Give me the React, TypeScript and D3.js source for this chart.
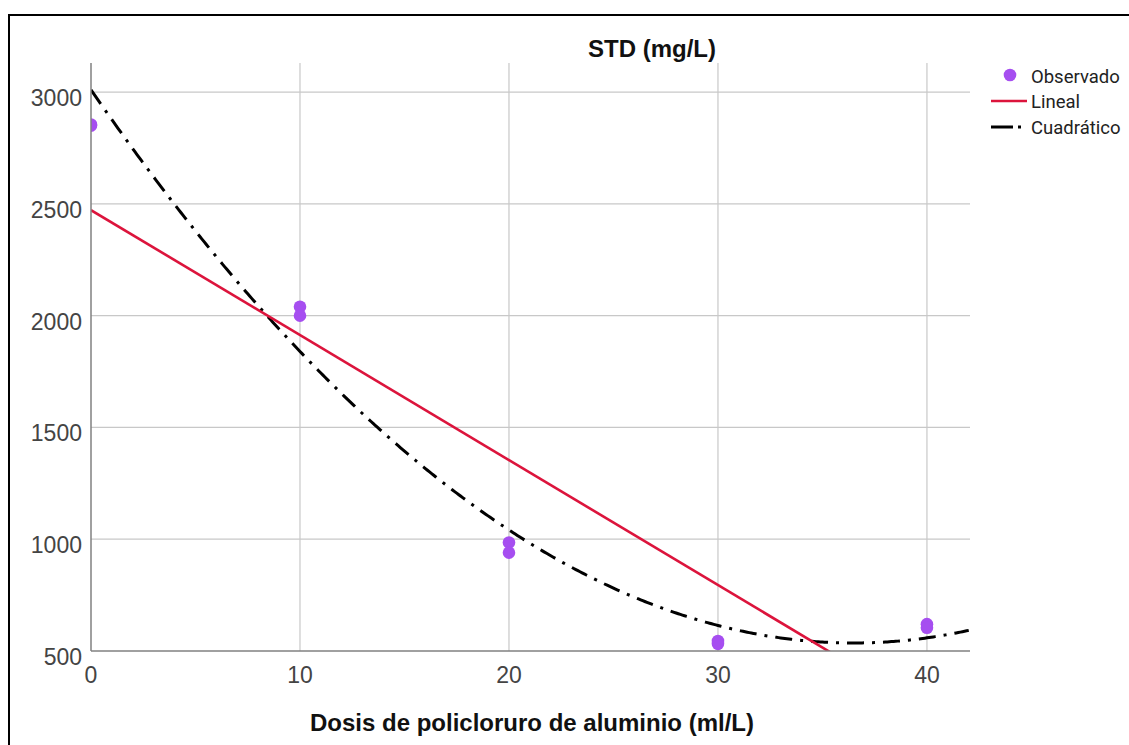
import React, { useEffect, useRef } from 'react';
import * as d3 from 'd3';

// observed points (dose ml/L, STD mg/L)
const doses = [0, 0, 10, 10, 20, 20, 30, 30, 40, 40];
const stdValues = [2855, 2850, 2040, 2000, 985, 940, 545, 532, 620, 604];

// fitted models, coefficients
const linearCoef = [2472, -55.9];
const quadCoef = [3010, -135.6, 1.858];

const xTicks = [0, 10, 20, 30, 40];
const yTicks = [500, 1000, 1500, 2000, 2500, 3000];

const legendItems = ['Observado', 'Lineal', 'Cuadrático'];

const App = () => {
  const svgRef = useRef<SVGSVGElement>(null);

  useEffect(() => {
    const W = 1129;
    const H = 745;
    const margin = { top: 63, left: 91, right: 159, bottom: 94 };
    const width = W - margin.left - margin.right;
    const height = H - margin.top - margin.bottom;

    const svg = d3.select(svgRef.current);
    svg.selectAll('*').remove();

    // outer frame
    svg
      .append('rect')
      .attr('x', 9)
      .attr('y', 15)
      .attr('width', W + 20)
      .attr('height', H + 20)
      .attr('fill', 'white')
      .attr('stroke', '#000')
      .attr('stroke-width', 2);

    const x = d3.scaleLinear().domain([0, 42.06]).range([0, width]);
    const y = d3.scaleLinear().domain([500, 3130]).range([height, 0]);

    svg
      .append('defs')
      .append('clipPath')
      .attr('id', 'plotclip')
      .append('rect')
      .attr('width', width)
      .attr('height', height);

    const g = svg.append('g').attr('transform', `translate(${margin.left},${margin.top})`);

    // grid
    g.selectAll('.vgrid')
      .data(xTicks.slice(1))
      .join('line')
      .attr('x1', (d) => x(d))
      .attr('x2', (d) => x(d))
      .attr('y1', 0)
      .attr('y2', height)
      .attr('stroke', '#c8c8c8')
      .attr('stroke-width', 1.2);
    g.selectAll('.hgrid')
      .data(yTicks.slice(1))
      .join('line')
      .attr('x1', 0)
      .attr('x2', width)
      .attr('y1', (d) => y(d))
      .attr('y2', (d) => y(d))
      .attr('stroke', '#c8c8c8')
      .attr('stroke-width', 1.2);

    const plot = g.append('g').attr('clip-path', 'url(#plotclip)');

    const xs = d3.range(0, 42.1, 0.1);
    const linFn = (v: number) => linearCoef[0] + linearCoef[1] * v;
    const quadFn = (v: number) => quadCoef[0] + quadCoef[1] * v + quadCoef[2] * v * v;

    plot
      .append('path')
      .datum(xs)
      .attr('fill', 'none')
      .attr('stroke', '#000')
      .attr('stroke-width', 3)
      .attr('stroke-dasharray', '17,8,3,8')
      .attr(
        'd',
        d3
          .line<number>()
          .x((d) => x(d))
          .y((d) => y(quadFn(d)))
      );

    plot
      .append('path')
      .datum([0, 42.06])
      .attr('fill', 'none')
      .attr('stroke', '#dc143c')
      .attr('stroke-width', 2.6)
      .attr(
        'd',
        d3
          .line<number>()
          .x((d) => x(d))
          .y((d) => y(linFn(d)))
      );

    plot
      .selectAll('.pt')
      .data(doses)
      .join('circle')
      .attr('cx', (d) => x(d))
      .attr('cy', (d, i) => y(stdValues[i]))
      .attr('r', 6.3)
      .attr('fill', '#a64ef0');

    // axes lines
    g.append('line')
      .attr('x1', 0)
      .attr('x2', width)
      .attr('y1', height)
      .attr('y2', height)
      .attr('stroke', '#808080')
      .attr('stroke-width', 1.5);
    g.append('line')
      .attr('x1', 0)
      .attr('x2', 0)
      .attr('y1', 0)
      .attr('y2', height)
      .attr('stroke', '#808080')
      .attr('stroke-width', 1.5);

    // tick labels
    const tickFont = '"Liberation Sans", Arimo, Arial, sans-serif';
    g.selectAll('.xt')
      .data(xTicks)
      .join('text')
      .attr('x', (d) => x(d))
      .attr('y', height + 32)
      .attr('text-anchor', 'middle')
      .attr('font-family', tickFont)
      .attr('font-size', 23)
      .attr('fill', '#444')
      .text((d) => d);
    g.selectAll('.yt')
      .data(yTicks)
      .join('text')
      .attr('x', -9)
      .attr('y', (d) => y(d) + 14)
      .attr('text-anchor', 'end')
      .attr('font-family', tickFont)
      .attr('font-size', 23)
      .attr('fill', '#444')
      .text((d) => d);

    // titles
    svg
      .append('text')
      .attr('x', 652)
      .attr('y', 57)
      .attr('text-anchor', 'middle')
      .attr('font-family', tickFont)
      .attr('font-weight', 'bold')
      .attr('font-size', 24)
      .attr('fill', '#111')
      .text('STD (mg/L)');
    svg
      .append('text')
      .attr('x', 532)
      .attr('y', 731)
      .attr('text-anchor', 'middle')
      .attr('font-family', tickFont)
      .attr('font-weight', 'bold')
      .attr('font-size', 24)
      .attr('fill', '#111')
      .text('Dosis de policloruro de aluminio (ml/L)');

    // legend
    const lg = svg
      .append('g')
      .attr('font-family', 'Roboto, "Liberation Sans", sans-serif')
      .attr('font-size', 18.5);
    const rowY = [76, 101, 127];
    lg.append('circle').attr('cx', 1010).attr('cy', rowY[0] - 1).attr('r', 6.3).attr('fill', '#a64ef0');
    lg.append('line')
      .attr('x1', 991)
      .attr('x2', 1027)
      .attr('y1', rowY[1])
      .attr('y2', rowY[1])
      .attr('stroke', '#dc143c')
      .attr('stroke-width', 2.6);
    lg.append('line')
      .attr('x1', 991)
      .attr('x2', 1027)
      .attr('y1', rowY[2])
      .attr('y2', rowY[2])
      .attr('stroke', '#000')
      .attr('stroke-width', 3)
      .attr('stroke-dasharray', '22,5,3,20');
    lg.selectAll('.lt')
      .data(legendItems)
      .join('text')
      .attr('x', 1031)
      .attr('y', (d, i) => rowY[i] + 7)
      .attr('fill', '#222')
      .text((d) => d);
  }, []);

  return (
    <svg
      ref={svgRef}
      width={1129}
      height={745}
      style={{ position: 'absolute', left: 0, top: 0, background: 'white' }}
    />
  );
};

export default App;
